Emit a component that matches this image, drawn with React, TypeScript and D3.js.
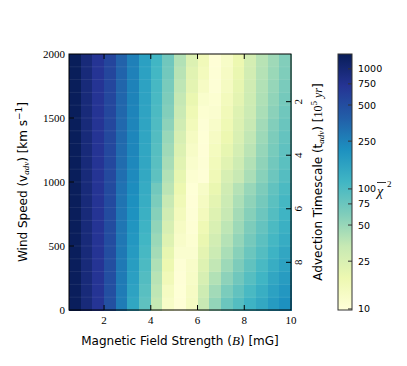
import React from 'react'
import * as d3 from 'd3'

// cell edges of the grid
const bEdges = [0.5, 1, 1.5, 2, 2.5, 3, 3.5, 4, 4.5, 5, 5.5, 6, 6.5, 7, 7.5, 8, 8.5, 9, 9.5, 10]
const windEdges = [0, 100, 200, 300, 400, 500, 600, 700, 800, 900, 1000, 1100, 1200, 1300, 1400, 1500, 1600, 1700, 1800, 1900, 2000]

// reduced chi^2, one row per wind speed bin (lowest wind first), one value per B bin
const chi2 = [
    [1280, 950, 720, 480, 270, 150, 85, 34, 13, 10.3, 14, 33, 52, 75, 95, 120, 145, 180, 210],
    [1280, 950, 720, 485, 274, 158, 90, 36, 14, 10.2, 13.5, 30, 46, 64, 82, 105, 130, 162, 192],
    [1280, 950, 720, 490, 278, 166, 96, 38, 16, 10.3, 13, 26, 40, 55, 72, 93, 116, 148, 175],
    [1280, 950, 720, 495, 282, 174, 102, 41, 18, 10.6, 12.5, 23, 35, 48, 63, 83, 105, 132, 160],
    [1280, 950, 720, 500, 285, 182, 108, 45, 20, 11.5, 11.5, 21, 31, 43, 57, 75, 95, 120, 148],
    [1280, 950, 720, 505, 288, 190, 114, 49, 23, 12.5, 11, 19, 28, 39, 52, 68, 87, 110, 135],
    [1285, 950, 720, 510, 292, 198, 120, 53, 26, 13.5, 10.6, 17, 25, 36, 48, 63, 80, 102, 126],
    [1285, 950, 720, 515, 295, 206, 126, 58, 29, 15, 10.4, 15, 23, 33, 45, 58, 74, 95, 118],
    [1285, 950, 720, 520, 300, 214, 132, 64, 33, 16.5, 10.3, 14, 21, 31, 42, 54, 68, 88, 110],
    [1285, 950, 720, 525, 305, 222, 138, 70, 37, 18, 10.2, 13, 19, 29, 39, 50, 63, 82, 102],
    [1290, 950, 720, 530, 320, 230, 145, 86, 40, 20, 11, 10.3, 16.5, 26, 33, 43, 57, 74, 94],
    [1290, 950, 720, 535, 330, 236, 148, 90, 44, 22, 12, 10.5, 15.5, 22, 30, 40, 54, 70, 88],
    [1290, 950, 720, 537, 335, 240, 150, 93, 47, 24, 13, 10.3, 14.5, 20, 27, 37, 51, 66, 84],
    [1290, 950, 720, 540, 340, 242, 152, 96, 50, 26, 14, 10.2, 13.5, 18, 25, 35, 48, 63, 80],
    [1295, 950, 720, 542, 345, 245, 154, 99, 55, 29, 15.5, 10.5, 12.5, 17, 24, 33, 46, 60, 76],
    [1295, 950, 720, 545, 350, 248, 156, 102, 60, 32, 17, 11, 11.5, 16, 23, 31, 43, 56, 72],
    [1295, 950, 720, 548, 355, 250, 158, 105, 63, 34, 19, 12, 11, 15, 21, 30, 41, 53, 68],
    [1300, 950, 720, 550, 360, 252, 160, 108, 66, 36, 21, 13.5, 10.5, 14, 20, 29, 40, 51, 65],
    [1300, 950, 720, 555, 365, 255, 163, 112, 70, 38, 22, 15, 10.4, 13.5, 19, 28, 39, 49, 62],
    [1300, 950, 720, 560, 370, 258, 165, 115, 72, 40, 24, 16, 10.3, 13, 18, 27, 38, 47, 60],
]

const bTicks = [2, 4, 6, 8, 10]
const windTicks = [0, 500, 1000, 1500, 2000]
const advTicks = [2, 4, 6, 8]
const advDomain = [0.22, 9.78]
const chi2Ticks = [10, 25, 50, 75, 100, 250, 500, 750, 1000]
const chi2Range = [9.8, 1330]

const W = 407
const H = 366
const plot = { left: 69, right: 291, top: 54, bottom: 310 }
const cbar = { left: 338, right: 352, top: 54, bottom: 310 }
const TICK = 5
const serif = '"Liberation Serif", serif'
const sans = '"DejaVu Sans", sans-serif'

const App = () => {
    const x = d3.scaleLinear().domain([bEdges[0], bEdges[bEdges.length - 1]]).range([plot.left, plot.right])
    const y = d3.scaleLinear().domain([windEdges[0], windEdges[windEdges.length - 1]]).range([plot.bottom, plot.top])
    const yAdv = d3.scaleLinear().domain(advDomain).range([plot.top, plot.bottom])
    const norm = d3.scaleLog().domain(chi2Range).range([0, 1]).clamp(true)
    const palette = d3.schemeYlGnBu[9]
    const ramp = d3.scaleLinear<string>()
        .domain(palette.map((_, i) => i / (palette.length - 1)))
        .range(palette)
        .interpolate(d3.interpolateRgb)
    const yCbar = d3.scaleLog().domain(chi2Range).range([cbar.bottom, cbar.top])
    const midY = (plot.top + plot.bottom) / 2

    return (
        <svg width={W} height={H} style={{ position: 'absolute', left: 0, top: 0, background: '#fff' }}>
            <defs>
                <linearGradient id='cbarGrad' x1='0' y1='1' x2='0' y2='0'>
                    {palette.map((c, i) => (
                        <stop key={i} offset={i / (palette.length - 1)} stopColor={c} />
                    ))}
                </linearGradient>
            </defs>

            {/* heatmap cells */}
            <g shapeRendering='crispEdges'>
                {chi2.map((row, r) =>
                    row.map((v, c) => (
                        <rect key={`${r}-${c}`}
                            x={x(bEdges[c])}
                            y={y(windEdges[r + 1])}
                            width={x(bEdges[c + 1]) - x(bEdges[c]) + 0.5}
                            height={y(windEdges[r]) - y(windEdges[r + 1]) + 0.5}
                            fill={ramp(norm(v))} />
                    ))
                )}
            </g>
            {/* faint seams between rows, like the pcolormesh edges */}
            <g>
                {windEdges.slice(1, -1).map((w) => (
                    <line key={w} x1={plot.left} x2={plot.right} y1={y(w)} y2={y(w)}
                        stroke='#fff' strokeOpacity={0.08} />
                ))}
            </g>

            {/* frame */}
            <rect x={plot.left} y={plot.top} width={plot.right - plot.left} height={plot.bottom - plot.top}
                fill='none' stroke='#000' strokeWidth={1} />

            {/* ticks */}
            <g stroke='#000'>
                {bTicks.filter((t) => t < 10).map((t) => (
                    <g key={t}>
                        <line x1={x(t)} x2={x(t)} y1={plot.bottom} y2={plot.bottom - TICK} />
                        <line x1={x(t)} x2={x(t)} y1={plot.top} y2={plot.top + TICK} />
                    </g>
                ))}
                {windTicks.filter((t) => t > 0 && t < 2000).map((t) => (
                    <line key={t} x1={plot.left} x2={plot.left + TICK} y1={y(t)} y2={y(t)} />
                ))}
                {advTicks.map((t) => (
                    <line key={t} x1={plot.right} x2={plot.right - TICK} y1={yAdv(t)} y2={yAdv(t)} />
                ))}
            </g>
            <g fontFamily={serif} fontSize={11} fill='#000'>
                {bTicks.map((t) => (
                    <text key={t} x={x(t)} y={plot.bottom + 14} textAnchor='middle'>{t}</text>
                ))}
                {windTicks.map((t) => (
                    <text key={t} x={plot.left - 4} y={y(t) + 3.5} textAnchor='end'>{t}</text>
                ))}
                {advTicks.map((t) => (
                    <text key={t} transform={`translate(${plot.right + 11},${yAdv(t)}) rotate(-90)`}
                        textAnchor='middle'>{t}</text>
                ))}
            </g>

            {/* axis labels */}
            <text x={(plot.left + plot.right) / 2} y={345} textAnchor='middle' fontFamily={sans} fontSize={12}>
                Magnetic Field Strength (<tspan fontFamily={serif} fontStyle='italic' fontSize={13}>B</tspan>) [mG]
            </text>
            <text transform={`translate(27,${midY}) rotate(-90)`} textAnchor='middle' fontFamily={sans} fontSize={12}>
                Wind Speed (v<tspan fontFamily={serif} fontStyle='italic' fontSize={9} dy={2}>adv</tspan>
                <tspan dy={-2}>) [km s</tspan>
                <tspan fontSize={9} dy={-5}>−1</tspan>
                <tspan dy={5}>]</tspan>
            </text>
            <text transform={`translate(322,${midY}) rotate(-90)`} textAnchor='middle' fontFamily={sans} fontSize={12}>
                Advection Timescale (t<tspan fontFamily={serif} fontStyle='italic' fontSize={9} dy={2}>adv</tspan>
                <tspan dy={-2}>) [</tspan>
                <tspan fontFamily={serif}>10</tspan>
                <tspan fontFamily={serif} fontSize={9} dy={-5}>5</tspan>
                <tspan fontFamily={serif} fontStyle='italic' dy={5}> yr</tspan>
                <tspan>]</tspan>
            </text>

            {/* colorbar */}
            <rect x={cbar.left} y={cbar.top} width={cbar.right - cbar.left} height={cbar.bottom - cbar.top}
                fill='url(#cbarGrad)' stroke='#333' strokeWidth={1} />
            <g stroke='#333'>
                {chi2Ticks.map((t) => (
                    <line key={t} x1={cbar.right} x2={cbar.right - 4} y1={yCbar(t)} y2={yCbar(t)} />
                ))}
            </g>
            <g fontFamily={sans} fontSize={9.5} fill='#000'>
                {chi2Ticks.map((t) => (
                    <text key={t} x={cbar.right + 6} y={yCbar(t) + 3.5}>{t}</text>
                ))}
            </g>
            <g>
                <text x={377} y={196} fontFamily={serif} fontStyle='italic' fontSize={14}>χ</text>
                <line x1={377} x2={386} y1={182.5} y2={182.5} stroke='#000' strokeWidth={0.8} />
                <text x={387} y={187} fontFamily={serif} fontSize={9}>2</text>
            </g>
        </svg>
    )
}

export default App
